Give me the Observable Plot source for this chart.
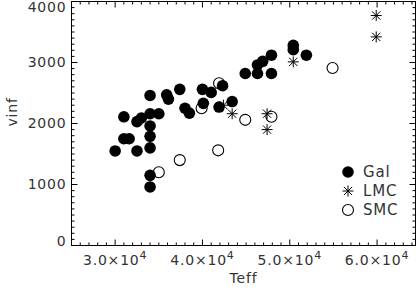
<!DOCTYPE html>
<html><head><meta charset="utf-8">
<script src="https://cdn.jsdelivr.net/npm/d3@7"></script>
<script src="https://cdn.jsdelivr.net/npm/@observablehq/plot@0.6"></script>
<style>
body{margin:0;background:#fff;}
#wrap{position:relative;width:419px;height:290px;font-family:"DejaVu Sans",sans-serif;}
.lg{position:absolute;left:341px;height:20px;display:flex;align-items:center;font-size:15px;color:#333;letter-spacing:0.8px;}
.lg svg{width:14px;height:14px;margin-right:8px;overflow:visible;}
</style></head><body><div id="wrap"></div>
<script>
// Galactic stars
const galTeff = [30000, 32500, 34000, 34000, 34000, 31000, 31600, 34000, 34000, 31000, 32500, 33000, 34000, 35000, 34000, 35900, 36100, 37400, 38000, 38500, 40000, 41000, 42300, 40100, 41900, 43400, 44900, 46300, 47900, 46300, 46900, 47900, 50400, 50400, 51900];
const galVinf = [1550, 1550, 1600, 1150, 960, 1750, 1750, 1960, 1790, 2110, 2030, 2090, 2160, 2160, 2460, 2470, 2400, 2560, 2250, 2170, 2560, 2510, 2620, 2330, 2270, 2360, 2820, 2820, 2820, 2960, 3020, 3120, 3280, 3210, 3120];
// LMC stars
const lmcTeff = [42400, 43400, 47400, 47400, 50400, 59900, 59900];
const lmcVinf = [2300, 2160, 2160, 1900, 3010, 3770, 3420];
// SMC stars
const smcTeff = [35000, 37400, 39900, 41900, 41800, 44900, 47900, 54900];
const smcVinf = [1200, 1400, 2250, 2660, 1560, 2060, 2110, 2910];

const xMajor = [30000, 40000, 50000, 60000];
const xTickLabels = ["3.0×10", "4.0×10", "5.0×10", "6.0×10"];
const xTickExponent = "4";
const yMajor = [0, 1000, 2000, 3000, 4000];
const yTickLabels = ["0", "1000", "2000", "3000", "4000"];
const xDomain = [25000, 64400];
const yDomain = [0, 4000];
const legendNames = ["Gal", "LMC", "SMC"];

const xMinor = d3.range(26000, 65000, 1000).filter(v => !xMajor.includes(v));
const yMinor = d3.range(100, 4000, 100).filter(v => v % 1000 !== 0);

const gal = galTeff.map((t, i) => ({teff: t, vinf: galVinf[i]}));
const lmc = lmcTeff.map((t, i) => ({teff: t, vinf: lmcVinf[i]}));
const smc = smcTeff.map((t, i) => ({teff: t, vinf: smcVinf[i]}));

const lineSym = (dx, dy) => ({draw(ctx) { ctx.moveTo(0, 0); ctx.lineTo(dx, dy); }});
const star = {draw(ctx) {
  const r = 5.5, d = r * 0.75;
  ctx.moveTo(0, -r); ctx.lineTo(0, r);
  ctx.moveTo(-r, 0); ctx.lineTo(r, 0);
  ctx.moveTo(-d, -d); ctx.lineTo(d, d);
  ctx.moveTo(-d, d); ctx.lineTo(d, -d);
}};

const tickMarks = (vals, anchor, sym) => Plot.dot(vals, {
  [anchor === "bottom" || anchor === "top" ? "x" : "y"]: d => d,
  frameAnchor: anchor, symbol: sym, stroke: "black", fill: "none", strokeWidth: 1
});

const yAxisPart = (vals, dy) => Plot.axisY(vals, {anchor: "left", tickSize: 0, tickPadding: 5, tickFormat: d => yTickLabels[yMajor.indexOf(d)], label: null, fontSize: 14, dy});

const plot = Plot.plot({
  width: 419, height: 290,
  marginLeft: 71, marginRight: 4, marginTop: 1, marginBottom: 45,
  x: {domain: xDomain, axis: null},
  y: {domain: yDomain, axis: null},
  style: {fontFamily: '"DejaVu Sans", sans-serif', fontSize: "14px", color: "#333", background: "white", overflow: "visible", letterSpacing: "0.8px"},
  marks: [
    Plot.frame({stroke: "black"}),
    tickMarks(xMajor, "bottom", lineSym(0, -6)),
    tickMarks(xMinor, "bottom", lineSym(0, -3)),
    tickMarks(xMajor, "top", lineSym(0, 6)),
    tickMarks(xMinor, "top", lineSym(0, 3)),
    tickMarks(yMajor, "left", lineSym(6, 0)),
    tickMarks(yMinor, "left", lineSym(3, 0)),
    tickMarks(yMajor, "right", lineSym(-6, 0)),
    tickMarks(yMinor, "right", lineSym(-3, 0)),
    Plot.axisX(xMajor, {anchor: "bottom", tickSize: 0, tickPadding: 10, tickFormat: d => xTickLabels[xMajor.indexOf(d)], label: null, fontSize: 14}),
    yAxisPart(yMajor.slice(1, 4), 0),
    yAxisPart([4000], 6.5),
    yAxisPart([0], -4),
    Plot.text(["Teff"], {frameAnchor: "bottom", dy: 37, fontSize: 14}),
    Plot.text(["vinf"], {frameAnchor: "left", dx: -59, dy: 3, rotate: -90, fontSize: 14}),
    Plot.dot(gal, {x: "teff", y: "vinf", r: 5.8, fill: "black", stroke: "none"}),
    Plot.dot(lmc, {x: "teff", y: "vinf", symbol: star, stroke: "black", strokeWidth: 1, fill: "none"}),
    Plot.dot(smc, {x: "teff", y: "vinf", r: 5.5, fill: "none", stroke: "black", strokeWidth: 1.1})
  ]
});

// superscript exponent on x tick labels
d3.select(plot).selectAll('g[aria-label="x-axis tick label"] text').each(function() {
  d3.select(this).append("tspan").attr("dy", "-0.6em").attr("font-size", "11px").text(xTickExponent);
});

const wrap = document.getElementById("wrap");
wrap.appendChild(plot);

// legend
const legendSyms = [
  '<svg viewBox="-7 -7 14 14"><circle r="5.8" fill="black"/></svg>',
  '<svg viewBox="-7 -7 14 14"><path d="M0,-5.5V5.5M-5.5,0H5.5M-4.1,-4.1L4.1,4.1M-4.1,4.1L4.1,-4.1" stroke="black" fill="none"/></svg>',
  '<svg viewBox="-7 -7 14 14"><circle r="5.5" fill="none" stroke="black" stroke-width="1.1"/></svg>'
];
const legendTops = [162, 181, 200];
legendNames.forEach((name, i) => {
  const div = document.createElement("div");
  div.className = "lg";
  div.style.top = legendTops[i] + "px";
  div.innerHTML = legendSyms[i] + "<span>" + name + "</span>";
  wrap.appendChild(div);
});
</script>
</body></html>
